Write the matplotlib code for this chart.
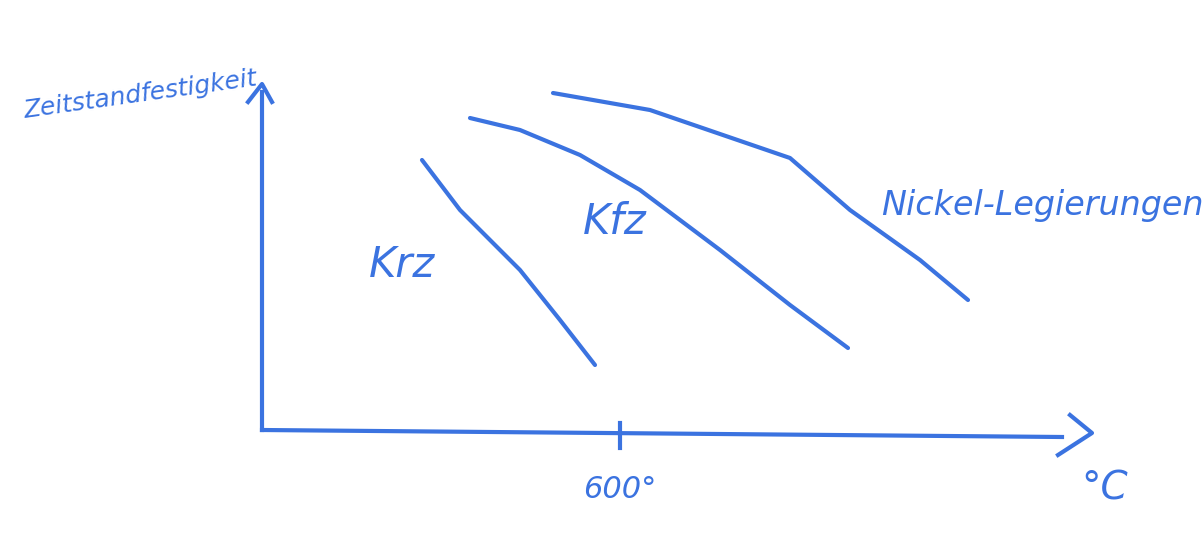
import matplotlib.pyplot as plt

blue = '#3b73e0'

# sketch curves (image pixel coordinates, y downwards)
krz_x = [422, 460, 520, 560, 595]
krz_y = [160, 210, 270, 320, 365]
kfz_x = [470, 520, 580, 640, 720, 790, 848]
kfz_y = [118, 130, 155, 190, 250, 305, 348]
ni_x = [553, 650, 790, 850, 920, 968]
ni_y = [93, 110, 158, 210, 260, 300]

fig = plt.figure(figsize=(12.03, 5.34), dpi=100)
ax = fig.add_axes([0, 0, 1, 1])
ax.set_xlim(0, 1203)
ax.set_ylim(534, 0)
ax.axis('off')

lw = 3
ax.plot(krz_x, krz_y, color=blue, lw=lw, solid_capstyle='round')
ax.plot(kfz_x, kfz_y, color=blue, lw=lw, solid_capstyle='round')
ax.plot(ni_x, ni_y, color=blue, lw=lw, solid_capstyle='round')

# axes
ax.plot([262, 262], [430, 92], color=blue, lw=lw)
ax.plot([248, 262, 272], [102, 84, 102], color=blue, lw=lw)
ax.plot([262, 1062], [430, 437], color=blue, lw=lw)
ax.plot([1070, 1092, 1058], [415, 433, 455], color=blue, lw=lw)
ax.plot([620, 620], [423, 448], color=blue, lw=lw)

kw = dict(color=blue, fontstyle='italic')
ax.text(620, 490, '600°', ha='center', va='center', fontsize=22, **kw)
ax.text(1105, 488, '°C', ha='center', va='center', fontsize=28, **kw)
ax.text(140, 95, 'Zeitstandfestigkeit', ha='center', va='center', fontsize=18, rotation=8, **kw)
ax.text(402, 265, 'Krz', ha='center', va='center', fontsize=30, **kw)
ax.text(615, 222, 'Kfz', ha='center', va='center', fontsize=30, **kw)
ax.text(1042, 205, 'Nickel-Legierungen', ha='center', va='center', fontsize=24, **kw)

fig.savefig('out.png', dpi=100)
